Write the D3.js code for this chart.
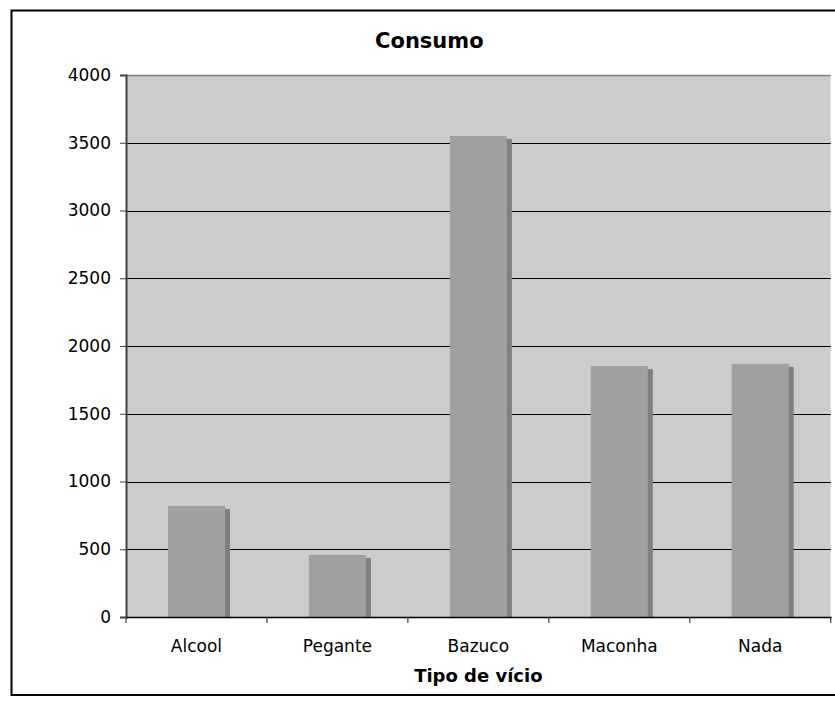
<!DOCTYPE html>
<html>
<head>
<meta charset="utf-8">
<script src="https://cdn.jsdelivr.net/npm/d3@7/dist/d3.min.js"></script>
<style>
  html, body { margin: 0; padding: 0; background: #ffffff; }
  svg { display: block; font-family: "DejaVu Sans", Verdana, sans-serif; }
</style>
</head>
<body>
<script>
// Consumption by type of addiction
const categories = ["Alcool", "Pegante", "Bazuco", "Maconha", "Nada"];
const values = [820, 458, 3550, 1852, 1868];
const yTicks = [0, 500, 1000, 1500, 2000, 2500, 3000, 3500, 4000];

const W = 835, H = 704;
const plot = { left: 126, right: 830.7, top: 75, bottom: 617 };

const svg = d3.select("body").append("svg")
  .attr("width", W).attr("height", H);

// outer chart frame
svg.append("rect")
  .attr("x", 11.5).attr("y", 10.5)
  .attr("width", 830).attr("height", 684.5)
  .attr("fill", "#ffffff").attr("stroke", "#000000").attr("stroke-width", 2);

const x = d3.scaleBand().domain(categories)
  .range([plot.left, plot.right]).paddingInner(0).paddingOuter(0);
const y = d3.scaleLinear().domain([0, 4000]).range([plot.bottom, plot.top]);

// plot background
svg.append("rect")
  .attr("x", plot.left).attr("y", plot.top)
  .attr("width", plot.right - plot.left).attr("height", plot.bottom - plot.top)
  .attr("fill", "#cccccc");

// top edge of plot area
svg.append("line")
  .attr("x1", plot.left).attr("x2", plot.right)
  .attr("y1", plot.top + 0.5).attr("y2", plot.top + 0.5)
  .attr("stroke", "#808080").attr("stroke-width", 1.5);

// horizontal gridlines
svg.append("g").selectAll("line")
  .data(yTicks.filter(d => d > 0 && d < 4000))
  .join("line")
  .attr("x1", plot.left).attr("x2", plot.right)
  .attr("y1", d => Math.round(y(d)) + 0.5).attr("y2", d => Math.round(y(d)) + 0.5)
  .attr("stroke", "#000000").attr("stroke-width", 1);

// bars with offset shadow
const barW = x.bandwidth() * 0.405;
const shadowDx = 5, shadowDy = 3;
const bars = svg.append("g");
bars.selectAll("rect.shadow")
  .data(categories)
  .join("rect")
  .attr("class", "shadow")
  .attr("x", (d) => x(d) + (x.bandwidth() - barW) / 2 + shadowDx)
  .attr("y", (d, i) => y(values[i]) + shadowDy)
  .attr("width", barW)
  .attr("height", (d, i) => plot.bottom - y(values[i]) - shadowDy)
  .attr("fill", "#808080");
bars.selectAll("rect.bar")
  .data(categories)
  .join("rect")
  .attr("class", "bar")
  .attr("x", (d) => x(d) + (x.bandwidth() - barW) / 2)
  .attr("y", (d, i) => y(values[i]))
  .attr("width", barW)
  .attr("height", (d, i) => plot.bottom - y(values[i]))
  .attr("fill", "#a0a0a0");

// y axis
const yAxis = d3.axisLeft(y).tickValues(yTicks).tickSize(6).tickPadding(9)
  .tickFormat(d3.format("d"));
const gy = svg.append("g")
  .attr("transform", `translate(${plot.left},0)`)
  .call(yAxis);
gy.select(".domain").attr("stroke", "#404040").attr("stroke-width", 2);
gy.selectAll(".tick line").attr("stroke", "#404040");
gy.selectAll(".tick text")
  .attr("font-family", "DejaVu Sans, Verdana, sans-serif")
  .attr("font-size", 17).attr("fill", "#000000");

// x axis: ticks at category boundaries
const boundaries = categories.map(c => x(c)).concat([plot.right]);
const gx = svg.append("g");
gx.append("line")
  .attr("x1", plot.left).attr("x2", plot.right + 1)
  .attr("y1", plot.bottom + 0.5).attr("y2", plot.bottom + 0.5)
  .attr("stroke", "#000000").attr("stroke-width", 1.5);
gx.selectAll("line.tk")
  .data(boundaries)
  .join("line")
  .attr("class", "tk")
  .attr("x1", d => d).attr("x2", d => d)
  .attr("y1", plot.bottom).attr("y2", plot.bottom + 6)
  .attr("stroke", "#404040").attr("stroke-width", 1.2);
gx.selectAll("text")
  .data(categories)
  .join("text")
  .attr("x", d => x(d) + x.bandwidth() / 2)
  .attr("y", 652)
  .attr("text-anchor", "middle")
  .attr("font-size", 17)
  .attr("fill", "#000000")
  .text(d => d);

// title
svg.append("text")
  .attr("x", (plot.left + plot.right) / 2 - 49)
  .attr("y", 48)
  .attr("text-anchor", "middle")
  .attr("font-size", 21).attr("font-weight", "bold")
  .text("Consumo");

// x axis title
svg.append("text")
  .attr("x", (plot.left + plot.right) / 2)
  .attr("y", 682)
  .attr("text-anchor", "middle")
  .attr("font-size", 18).attr("font-weight", "bold")
  .text("Tipo de vício");
</script>
</body>
</html>
